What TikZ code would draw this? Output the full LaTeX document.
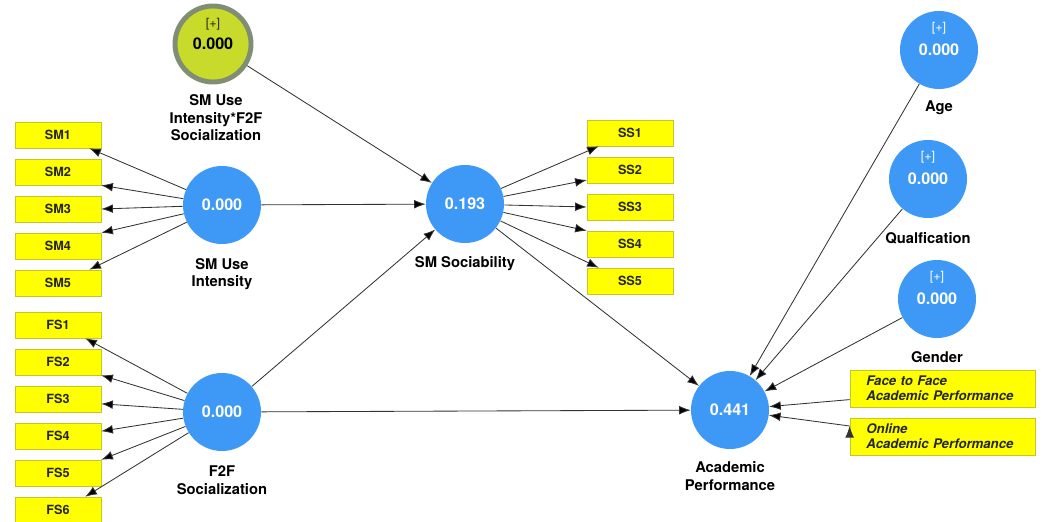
\documentclass[tikz,border=0pt]{standalone}
\usepackage{fontspec}
\setmainfont{TeX Gyre Heros}
\usepackage{tikz}
\usetikzlibrary{arrows.meta,positioning}

\definecolor{lvblue}{RGB}{62,152,245}
\definecolor{mvyellow}{RGB}{255,255,0}
\definecolor{mvborder}{RGB}{200,196,40}
\definecolor{modgreen}{RGB}{200,219,42}
\definecolor{modring}{RGB}{128,142,118}

\begin{document}
\begin{tikzpicture}[>={Latex[length=2.9mm,width=2.2mm]},
    latent/.style={circle,fill=lvblue,minimum size=1.95cm,inner sep=0pt,text=white,font=\fontsize{11.5}{13}\selectfont\bfseries},
    modlatent/.style={circle,fill=modgreen,draw=modring,line width=3.5pt,minimum size=1.9cm,inner sep=0pt,font=\fontsize{11.5}{13}\selectfont\bfseries},
    plus/.style={inner sep=0pt,text=white,font=\fontsize{9}{10}\selectfont},
    item/.style={rectangle,fill=mvyellow,draw=mvborder,line width=0.4pt,minimum width=2.15cm,minimum height=0.65cm,inner sep=0pt,text=black!85,font=\fontsize{9}{10}\selectfont\bfseries},
    ctrl/.style={item,minimum width=4.625cm,minimum height=0.925cm,align=left,text width=3.8cm,font=\fontsize{9.4}{10.5}\selectfont\bfseries\itshape},
    lbl/.style={align=center,inner sep=0pt,font=\fontsize{10.5}{12.5}\selectfont\bfseries}]
   \useasboundingbox (0,0) rectangle (26.125,-13.05);

   %latent variables
   \node[modlatent] (inter) at (5.325,-1.1) {0.000};
   \node[plus,text=black!85] (interp) at (5.325,-0.6) {[+]};
   \node[latent] (siu) at (5.55,-5.125) {0.000};
   \node[latent] (sms) at (11.625,-5.1) {0.193};
   \node[latent] (f2f) at (5.55,-10.3) {0.000};
   \node[latent] (ap) at (18.25,-10.25) {0.441};
   \node[latent] (age) at (23.475,-1.25) {0.000};
   \node[plus] (agep) at (23.475,-0.7) {[+]};
   \node[latent] (qual) at (23.2,-4.475) {0.000};
   \node[plus] (qualp) at (23.2,-3.925) {[+]};
   \node[latent] (gen) at (23.425,-7.475) {0.000};
   \node[plus] (genp) at (23.425,-6.925) {[+]};

   %names
   \node[lbl] (interlbl) at (5.4,-2.95) {SM Use\\Intensity*F2F\\Socialization};
   \node[lbl] (siulbl) at (5.55,-6.85) {SM Use\\Intensity};
   \node[lbl] (smslbl) at (11.625,-6.6) {SM Sociability};
   \node[lbl] (f2flbl) at (5.55,-12.0) {F2F\\Socialization};
   \node[lbl] (aplbl) at (18.25,-11.9) {Academic\\Performance};
   \node[lbl] (agelbl) at (23.475,-2.7) {Age};
   \node[lbl] (quallbl) at (23.2,-5.95) {Qualfication};
   \node[lbl] (genlbl) at (23.425,-8.925) {Gender};

   %indicators SM use intensity
   \node[item] (sm1) at (1.45,-3.375) {SM1};
   \node[item] (sm2) at (1.45,-4.3) {SM2};
   \node[item] (sm3) at (1.45,-5.225) {SM3};
   \node[item] (sm4) at (1.45,-6.15) {SM4};
   \node[item] (sm5) at (1.45,-7.075) {SM5};

   %indicators F2F socialization
   \node[item] (fs1) at (1.45,-8.125) {FS1};
   \node[item] (fs2) at (1.45,-9.05) {FS2};
   \node[item] (fs3) at (1.45,-9.975) {FS3};
   \node[item] (fs4) at (1.45,-10.9) {FS4};
   \node[item] (fs5) at (1.45,-11.825) {FS5};
   \node[item] (fs6) at (1.45,-12.75) {FS6};

   %indicators SM sociability
   \node[item] (ss1) at (15.75,-3.325) {SS1};
   \node[item] (ss2) at (15.75,-4.25) {SS2};
   \node[item] (ss3) at (15.75,-5.175) {SS3};
   \node[item] (ss4) at (15.75,-6.1) {SS4};
   \node[item] (ss5) at (15.75,-7.025) {SS5};

   %controls
   \node[ctrl] (face) at (23.56,-9.71) {Face to Face\\Academic Performance};
   \node[ctrl] (online) at (23.56,-10.91) {Online\\Academic Performance};

  \path[->,draw=black!80,line width=0.6pt]
    %outer loadings
    (siu) edge ([xshift=-0.3cm]sm1.south east)
          edge (sm2.south east)
          edge (sm3.east)
          edge (sm4.north east)
          edge ([xshift=-0.3cm]sm5.north east)
    (f2f) edge ([xshift=-0.4cm]fs1.south east)
          edge (fs2.south east)
          edge ([yshift=-0.12cm]fs3.east)
          edge ([yshift=0.12cm]fs4.east)
          edge (fs5.north east)
          edge ([xshift=-0.4cm]fs6.north east)
    (sms) edge ([xshift=0.3cm]ss1.south west)
          edge ([yshift=0.08cm]ss2.south west)
          edge (ss3.west)
          edge (ss4.north west)
          edge ([xshift=0.3cm]ss5.north west)

    %structural paths
    (inter) edge (sms)
    (siu) edge (sms)
    (f2f) edge (sms)
          edge (ap)
    (sms) edge (ap)
    (age) edge (ap)
    (qual) edge (ap)
    (gen) edge (ap)
    ([yshift=-0.28cm]face.west) edge (ap)
    ([yshift=0.26cm]online.west) edge (ap);
\end{tikzpicture}
\end{document}
